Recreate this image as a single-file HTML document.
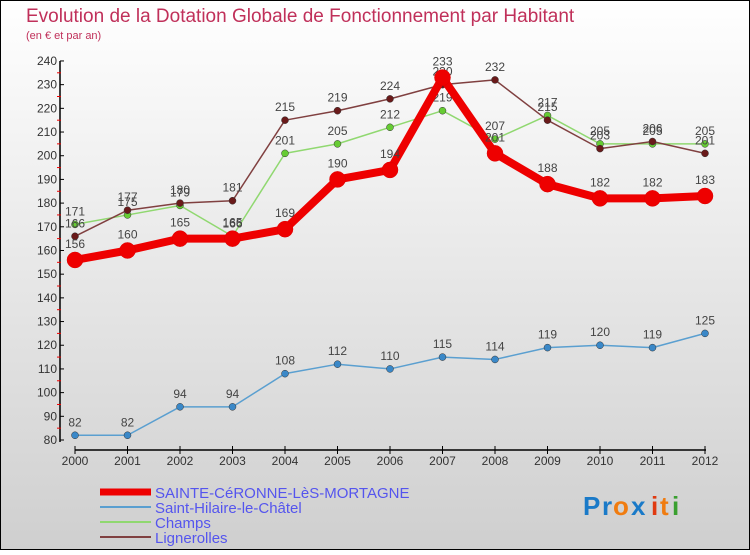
<!DOCTYPE html>
<html><head><meta charset="utf-8"><style>
body{margin:0;width:750px;height:550px;overflow:hidden;font-family:"Liberation Sans",sans-serif}
svg text{font-family:"Liberation Sans",sans-serif}
</style></head><body>
<svg id="c" width="750" height="550" xmlns="http://www.w3.org/2000/svg">
<defs><linearGradient id="bg" x1="0" y1="0" x2="0" y2="1"><stop offset="0" stop-color="#ffffff"/><stop offset="1" stop-color="#cfcfcf"/></linearGradient></defs>
<rect x="0.5" y="0.5" width="749" height="549" fill="url(#bg)" stroke="#000"/>
<text x="26" y="22" font-size="19" fill="#c0305a">Evolution de la Dotation Globale de Fonctionnement par Habitant</text>
<text x="26" y="39" font-size="11" fill="#c0305a">(en € et par an)</text>
<g id="axes"></g><g id="series"></g><g id="legend"></g>
<g font-size="26" font-weight="bold">
<text x="583" y="515" fill="#1a7ac8">P</text><text x="602" y="515" fill="#1a7ac8">r</text><text x="613" y="515" fill="#f07c10">o</text><text x="631" y="515" fill="#1a7ac8">x</text><text x="651" y="515" fill="#e03a10">i</text><text x="660" y="515" fill="#f07c10">t</text><text x="672" y="515" fill="#3aa030">i</text>
</g>
</svg>
<script>
const years=[2000,2001,2002,2003,2004,2005,2006,2007,2008,2009,2010,2011,2012];
const sainte=[156,160,165,165,169,190,194,233,201,188,182,182,183];
const hilaire=[82,82,94,94,108,112,110,115,114,119,120,119,125];
const champs=[171,175,179,166,201,205,212,219,207,217,205,205,205];
const ligner=[166,177,180,181,215,219,224,230,232,215,203,206,201];
const yTicks=[80,90,100,110,120,130,140,150,160,170,180,190,200,210,220,230,240];
const names=["SAINTE-CéRONNE-LèS-MORTAGNE","Saint-Hilaire-le-Châtel","Champs","Lignerolles"];
const NS="http://www.w3.org/2000/svg";
const X=i=>75+i*52.5, Y=v=>440-(v-80)*2.369;
function mk(p,t,a){const e=document.createElementNS(NS,t);for(const k in a)e.setAttribute(k,a[k]);p.appendChild(e);return e;}
const ax=document.getElementById('axes');
let l=mk(ax,'line',{x1:60,y1:Y(240),x2:60,y2:442,stroke:'#000','stroke-width':1.5});


l=mk(ax,'line',{x1:75,y1:450,x2:706,y2:450,stroke:'#000','stroke-width':1.5});


yTicks.forEach(v=>{
 mk(ax,'line',{x1:60,y1:Y(v),x2:64,y2:Y(v),stroke:'#000'});
 if(v<240) mk(ax,'line',{x1:57,y1:Y(v+5),x2:61,y2:Y(v+5),stroke:'#e00'});
 const t=mk(ax,'text',{x:57,y:Y(v)+4,'font-size':12,fill:'#333','text-anchor':'end'});t.textContent=v;
 
 
});
years.forEach((y,i)=>{
 mk(ax,'line',{x1:X(i),y1:446,x2:X(i),y2:454,stroke:'#000'});
 const t=mk(ax,'text',{x:X(i),y:465,'font-size':12,fill:'#333','text-anchor':'middle'});t.textContent=y;
 
 
});
const S=document.getElementById('series');
const defs=[[hilaire,'#5a9fd0','#3a88c8',1.5,3.5,'saint-hilaire'],[champs,'#90d870','#66cc33',1.5,3.5,'champs'],[ligner,'#804040','#6a1a1a',1.5,3.5,'lignerolles'],[sainte,'#ee0000','#ee0000',8,8,'sainte-ceronne']];
defs.forEach(([d,lc,pc,w,r,n])=>{
 const g=mk(S,'g',{});
 
 
 const p=mk(g,'polyline',{points:d.map((v,i)=>X(i)+','+Y(v)).join(' '),fill:'none',stroke:lc,'stroke-width':w,'stroke-linejoin':'round'});
 
 
 d.forEach((v,i)=>{
  const c=mk(g,'circle',{cx:X(i),cy:Y(v),r:r,fill:pc,stroke:w>2?'#d00':'#333','stroke-width':0.5});
  
  
  const t=mk(g,'text',{x:X(i),y:Y(v)-(w>2?12:9),'font-size':12,fill:'#444','text-anchor':'middle'});t.textContent=v;
  
  
 });
});
const L=document.getElementById('legend');
const lc=[['#ee0000',7],['#5a9fd0',2],['#90d870',2],['#804040',2]];
names.forEach((n,i)=>{
 const y=492+i*15;
 const g=mk(L,'g',{});
 
 
 mk(g,'line',{x1:100,y1:y,x2:151,y2:y,stroke:lc[i][0],'stroke-width':lc[i][1]});
 const t=mk(g,'text',{x:155,y:y+6,'font-size':15,fill:'#5555ee'});t.textContent=n;
});
</script>
</body></html>
